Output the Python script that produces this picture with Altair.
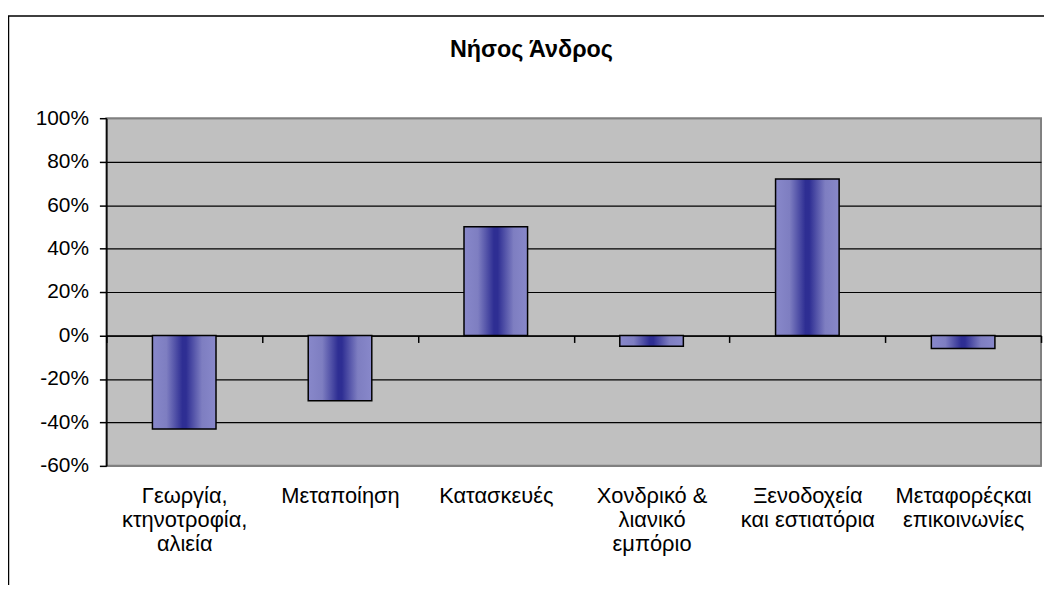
import altair as alt
import pandas as pd

title_text = "Νήσος Άνδρος"
categories = [
    "Γεωργία,|κτηνοτροφία,|αλιεία",
    "Μεταποίηση",
    "Κατασκευές",
    "Χονδρικό &|λιανικό|εμπόριο",
    "Ξενοδοχεία|και εστιατόρια",
    "Μεταφορέςκαι|επικοινωνίες",
]
values = [-0.43, -0.30, 0.50, -0.05, 0.72, -0.06]
y_ticks = [-0.6, -0.4, -0.2, 0.0, 0.2, 0.4, 0.6, 0.8, 1.0]

df = pd.DataFrame({"cat": categories, "val": values})
tdf = pd.DataFrame({"t": [title_text]})

FONT = "Liberation Sans"
W, H = 941, 350

gradient = alt.Gradient(
    gradient="linear",
    x1=0, x2=1, y1=0, y2=0,
    stops=[
        alt.GradientStop(color="#8888ca", offset=0),
        alt.GradientStop(color="#7e7ec1", offset=0.22),
        alt.GradientStop(color="#2e2e93", offset=0.47),
        alt.GradientStop(color="#2e2e93", offset=0.53),
        alt.GradientStop(color="#7e7ec1", offset=0.78),
        alt.GradientStop(color="#8888ca", offset=1),
    ],
)

zero_offset = -(H - H * 1.0 / 1.6)  # distance from bottom to zero line

bars = alt.Chart(df).mark_bar(
    width=64, fill=gradient, stroke="black", strokeWidth=1.5
).encode(
    x=alt.X(
        "cat:N", sort=categories, title=None,
        scale=alt.Scale(paddingInner=0, paddingOuter=0),
        axis=alt.Axis(
            orient="bottom", offset=zero_offset,
            domain=True, domainColor="black", domainWidth=1.5,
            ticks=True, tickBand="extent", tickSize=7, tickColor="black", tickWidth=1.5,
            labelPadding=144, labelAngle=0, labelFont=FONT, labelFontSize=22,
            labelColor="black", labelLineHeight=24, labelBaseline="top",
            labelExpr="split(datum.label, '|')", grid=False,
        ),
    ),
    y=alt.Y(
        "val:Q", title=None,
        scale=alt.Scale(domain=[-0.6, 1.0], nice=False, zero=False),
        axis=alt.Axis(
            values=y_ticks, domain=True, domainColor="black", domainWidth=1.5,
            tickSize=7, tickColor="black", tickWidth=1.5, labelPadding=11,
            labelFont=FONT, labelFontSize=21, labelColor="black",
            labelExpr="(datum.value < 0 ? '-' : '') + format(abs(datum.value), '.0%')",
            grid=True, gridWidth=1.2,
            gridColor={"condition": {"test": "datum.value >= 0.99 || datum.value <= -0.59",
                                      "value": "#808080"}, "value": "black"},
        ),
    ),
)

title = alt.Chart(tdf).mark_text(
    font=FONT, fontSize=23.5, fontWeight="bold", color="black",
    align="center", baseline="middle",
).encode(text="t:N", x=alt.value(428), y=alt.value(-69))

border = alt.Chart(tdf).mark_rect(
    fill=None, stroke="black", strokeWidth=1.5, fillOpacity=0
).encode(x=alt.value(-98.5), x2=alt.value(2000), y=alt.value(-103), y2=alt.value(1000))

chart = alt.layer(border, bars, title).properties(
    width=W, height=H,
    background="white",
    autosize=alt.AutoSizeParams(type="none"),
    padding={"left": 99, "top": 109, "right": 3, "bottom": 118},
).configure_view(
    fill="#c0c0c0", stroke="#808080", strokeWidth=2
)

chart.save("out.html", embed_options={"renderer": "svg", "actions": False})
